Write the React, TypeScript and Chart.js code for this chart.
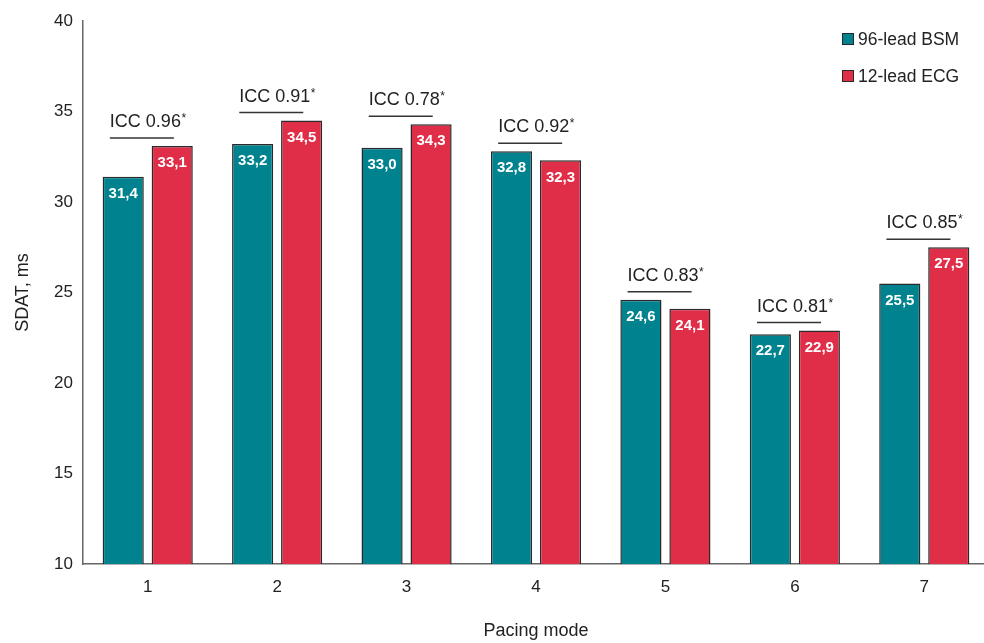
import React, { useEffect, useRef } from "react";
import { Chart, registerables } from "chart.js";

Chart.register(...registerables);

const categories = ["1", "2", "3", "4", "5", "6", "7"];
const bsmValues = [31.4, 33.2, 33.0, 32.8, 24.6, 22.7, 25.5];
const ecgValues = [33.1, 34.5, 34.3, 32.3, 24.1, 22.9, 27.5];
const iccValues = ["0.96", "0.91", "0.78", "0.92", "0.83", "0.81", "0.85"];
const seriesNames = ["96-lead BSM", "12-lead ECG"];
const yMin = 10;
const yMax = 40;
const yStep = 5;

const TEAL = "#00838F";
const RED = "#E02D48";
const BORDER = "#2a2a2a";
const TEXT = "#222222";
const FONT = "'Liberation Sans', Arial, Helvetica, sans-serif";

const overlayPlugin = {
  id: "overlay",
  afterDatasetsDraw(chart: any) {
    const ctx = chart.ctx as CanvasRenderingContext2D;
    const m0 = chart.getDatasetMeta(0);
    const m1 = chart.getDatasetMeta(1);
    const xScale = chart.scales.x;

    ctx.save();
    // data labels
    ctx.fillStyle = "#ffffff";
    ctx.font = `bold 15px ${FONT}`;
    ctx.textAlign = "center";
    ctx.textBaseline = "middle";
    [m0, m1].forEach((meta: any, di: number) => {
      const vals = di === 0 ? bsmValues : ecgValues;
      meta.data.forEach((el: any, i: number) => {
        ctx.fillText(vals[i].toFixed(1).replace(".", ","), el.x, el.y + 17);
      });
    });

    // ICC annotations
    categories.forEach((_, i) => {
      const top = Math.min(m0.data[i].y, m1.data[i].y);
      const lineY = top - 8;
      const cx = xScale.getPixelForValue(i);
      const main = `ICC ${iccValues[i]}`;
      ctx.font = `18px ${FONT}`;
      const w1 = ctx.measureText(main).width;
      ctx.font = `12px ${FONT}`;
      const w2 = ctx.measureText("*").width;
      const left = cx - (w1 + w2) / 2;
      const baseY = lineY - 11;
      ctx.fillStyle = TEXT;
      ctx.textAlign = "left";
      ctx.textBaseline = "alphabetic";
      ctx.font = `18px ${FONT}`;
      ctx.fillText(main, left, baseY);
      ctx.font = `12px ${FONT}`;
      ctx.fillText("*", left + w1 + 0.5, baseY - 5);
      ctx.strokeStyle = "#333333";
      ctx.lineWidth = 1.5;
      ctx.beginPath();
      ctx.moveTo(left, lineY);
      ctx.lineTo(left + 64, lineY);
      ctx.stroke();
    });

    // legend
    const legendColors = [TEAL, RED];
    const legendYs = [39, 76];
    seriesNames.forEach((name, i) => {
      const y = legendYs[i];
      ctx.fillStyle = legendColors[i];
      ctx.fillRect(842, y - 6, 12, 12);
      ctx.strokeStyle = BORDER;
      ctx.lineWidth = 1;
      ctx.strokeRect(842.5, y - 5.5, 11, 11);
      ctx.fillStyle = TEXT;
      ctx.font = `17.5px ${FONT}`;
      ctx.textAlign = "left";
      ctx.textBaseline = "middle";
      ctx.fillText(name, 858, y + 1);
    });
    ctx.restore();
  },
};

export default function App() {
  const ref = useRef<HTMLCanvasElement | null>(null);

  useEffect(() => {
    document.body.style.margin = "0";
    const canvas = ref.current;
    if (!canvas) return;
    const chart = new Chart(canvas, {
      type: "bar",
      data: {
        labels: categories,
        datasets: [
          {
            label: seriesNames[0],
            data: bsmValues,
            backgroundColor: TEAL,
            borderColor: BORDER,
            borderWidth: 1.5,
            categoryPercentage: 0.757,
            barPercentage: 0.84,
          },
          {
            label: seriesNames[1],
            data: ecgValues,
            backgroundColor: RED,
            borderColor: BORDER,
            borderWidth: 1.5,
            categoryPercentage: 0.757,
            barPercentage: 0.84,
          },
        ],
      },
      options: {
        responsive: false,
        animation: false,
        devicePixelRatio: window.devicePixelRatio || 1,
        layout: { padding: { top: 21, left: 0, right: 0, bottom: 0 } },
        plugins: {
          legend: { display: false },
          tooltip: { enabled: false },
        },
        scales: {
          x: {
            grid: { display: false, drawTicks: false },
            border: { display: true, color: "#666666", width: 1.5 },
            ticks: {
              color: TEXT,
              font: { family: FONT, size: 17 },
              padding: 13,
            },
            title: {
              display: true,
              text: "Pacing mode",
              color: TEXT,
              font: { family: FONT, size: 18 },
              padding: { top: 0, bottom: 1 },
            },
            afterFit(scale: any) {
              scale.height = 79;
            },
          },
          y: {
            min: yMin,
            max: yMax,
            grid: { display: false, drawTicks: false },
            border: { display: true, color: "#666666", width: 1.5 },
            ticks: {
              stepSize: yStep,
              color: TEXT,
              font: { family: FONT, size: 17 },
              padding: 10,
            },
            title: {
              display: true,
              text: "SDAT, ms",
              color: TEXT,
              font: { family: FONT, size: 18 },
              padding: { top: 12, bottom: 0 },
            },
            afterFit(scale: any) {
              scale.width = 83;
            },
          },
        },
      },
      plugins: [overlayPlugin],
    } as any);
    return () => chart.destroy();
  }, []);

  return (
    <div style={{ width: 984, height: 643, overflow: "hidden", background: "#fff" }}>
      <canvas ref={ref} width={989} height={643} style={{ display: "block" }} />
    </div>
  );
}
